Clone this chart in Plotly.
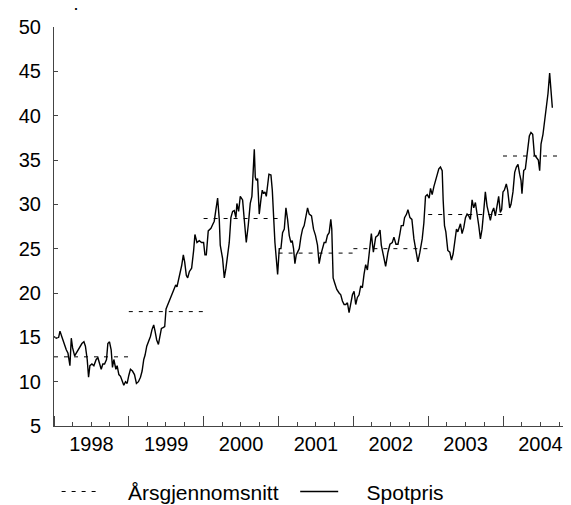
import plotly.graph_objects as go
import pandas as pd

# Weekly-ish spot price readings (fractional year, USD per barrel)
spot_t = [
    1998.0, 1998.03, 1998.062, 1998.08, 1998.107, 1998.133, 1998.164, 1998.187, 1998.213, 1998.231,
    1998.249, 1998.276, 1998.311, 1998.342, 1998.373, 1998.4, 1998.42, 1998.444, 1998.462, 1998.48,
    1998.507, 1998.533, 1998.564, 1998.587, 1998.609, 1998.631, 1998.653, 1998.676, 1998.702, 1998.72,
    1998.742, 1998.764, 1998.782, 1998.8, 1998.827, 1998.844, 1998.867, 1998.889, 1998.911, 1998.933,
    1998.956, 1998.978, 1999.0, 1999.022, 1999.049, 1999.076, 1999.102, 1999.129, 1999.156, 1999.178,
    1999.2, 1999.218, 1999.24, 1999.262, 1999.289, 1999.311, 1999.333, 1999.351, 1999.373, 1999.396,
    1999.413, 1999.436, 1999.458, 1999.48, 1999.498, 1999.52, 1999.547, 1999.573, 1999.6, 1999.627,
    1999.644, 1999.667, 1999.689, 1999.707, 1999.729, 1999.747, 1999.769,
    1999.787, 1999.809, 1999.84, 1999.867, 1999.884, 1999.911, 1999.942, 1999.973, 2000.0, 2000.018,
    2000.036, 2000.062, 2000.098, 2000.12, 2000.142, 2000.164, 2000.187, 2000.209, 2000.222, 2000.253,
    2000.276, 2000.298, 2000.32, 2000.342, 2000.364, 2000.387, 2000.409, 2000.431, 2000.444, 2000.467,
    2000.489, 2000.52, 2000.542, 2000.569, 2000.596, 2000.622, 2000.644, 2000.676, 2000.689, 2000.702,
    2000.72, 2000.733, 2000.742, 2000.764, 2000.782, 2000.8, 2000.818, 2000.836, 2000.853, 2000.871,
    2000.898, 2000.916, 2000.933, 2000.951, 2000.987, 2001.009, 2001.031, 2001.053, 2001.076, 2001.098,
    2001.12, 2001.142, 2001.164, 2001.182, 2001.2, 2001.218, 2001.236, 2001.253, 2001.276, 2001.298,
    2001.32, 2001.342, 2001.364, 2001.387, 2001.409, 2001.44, 2001.467, 2001.493, 2001.52, 2001.542,
    2001.564, 2001.587, 2001.609, 2001.631, 2001.653, 2001.676, 2001.698, 2001.711, 2001.729, 2001.751,
    2001.778, 2001.809, 2001.831, 2001.853, 2001.876, 2001.898, 2001.92, 2001.942, 2001.964, 2001.987,
    2002.009, 2002.031, 2002.053, 2002.076, 2002.098, 2002.12, 2002.142, 2002.164,
    2002.187, 2002.209, 2002.24, 2002.267, 2002.298, 2002.329, 2002.356, 2002.373, 2002.4, 2002.431,
    2002.462, 2002.489, 2002.52, 2002.542, 2002.569, 2002.596, 2002.622, 2002.64, 2002.667, 2002.684,
    2002.711, 2002.729, 2002.756, 2002.782, 2002.809, 2002.836, 2002.862, 2002.889, 2002.92, 2002.942,
    2002.964, 2002.987, 2003.013, 2003.031, 2003.053, 2003.076, 2003.098, 2003.12, 2003.142, 2003.164,
    2003.187, 2003.2, 2003.218, 2003.236, 2003.262, 2003.289, 2003.311, 2003.333, 2003.356, 2003.378,
    2003.396, 2003.413, 2003.431, 2003.453, 2003.476, 2003.498, 2003.52, 2003.542, 2003.564, 2003.587,
    2003.609, 2003.631, 2003.653, 2003.676, 2003.698, 2003.72, 2003.742, 2003.764, 2003.787, 2003.809,
    2003.831, 2003.853, 2003.876, 2003.898, 2003.92, 2003.942, 2003.964, 2003.982, 2004.0, 2004.018,
    2004.044, 2004.062, 2004.089, 2004.107, 2004.133, 2004.156, 2004.178, 2004.2, 2004.222, 2004.24,
    2004.253, 2004.276, 2004.298, 2004.311, 2004.329, 2004.351, 2004.373, 2004.396, 2004.418, 2004.436,
    2004.453, 2004.471, 2004.489, 2004.507, 2004.533, 2004.556, 2004.578, 2004.6, 2004.622, 2004.64,
    2004.658,
]
spot_v = [
    15.1, 14.9, 15.0, 15.7, 15.0, 14.3, 13.6, 13.2, 11.8, 14.9,
    13.8, 12.9, 13.4, 13.8, 14.3, 14.5, 14.0, 12.5, 10.5, 11.8,
    12.0, 11.8, 12.5, 12.7, 12.1, 11.4, 12.0, 12.0, 12.5, 14.3,
    14.5, 13.6, 11.6, 12.5, 11.4, 11.8, 10.8, 10.6, 10.1, 9.6,
    10.0, 9.8, 10.7, 11.4, 11.2, 10.8, 9.8, 10.0, 10.5, 11.2,
    12.5, 13.0, 14.0, 14.5, 15.1, 15.9, 16.4, 15.7, 14.7, 14.2,
    15.1, 16.0, 16.1, 16.2, 18.2, 18.7, 19.2, 19.7, 20.4, 20.9,
    20.7, 21.5, 22.2, 23.1, 24.3, 23.5, 22.0,
    21.7, 22.4, 22.8, 24.8, 26.6, 25.7, 25.9, 25.7, 25.7, 24.3,
    24.3, 27.0, 27.3, 27.7, 28.1, 29.4, 30.7, 28.3, 25.4, 23.9,
    21.7, 22.8, 24.3, 25.7, 28.5, 29.2, 29.3, 28.5, 30.1, 29.2,
    30.9, 30.5, 28.3, 25.7, 27.7, 30.1, 30.9, 36.2, 33.1, 32.7,
    32.9, 30.9, 28.9, 30.5, 31.6, 31.2, 31.4, 30.9, 32.0, 33.4,
    33.3, 31.6, 28.7, 25.7, 22.1, 25.0, 25.0, 26.8, 27.2, 29.6,
    28.3, 26.5, 25.7, 25.9, 25.0, 23.3, 24.3, 24.6, 25.0, 26.3,
    27.2, 27.6, 28.5, 29.6, 28.9, 28.7, 27.2, 26.5, 25.4, 23.3,
    24.3, 25.0, 25.7, 25.7, 26.5, 26.8, 28.3, 27.2, 21.7, 21.1,
    20.4, 20.0, 19.8, 19.1, 18.7, 18.7, 18.9, 17.8, 18.7, 19.8,
    20.2, 18.7, 19.5, 19.8, 20.8, 20.6, 22.1, 23.2,
    22.6, 24.3, 26.7, 24.6, 26.3, 26.5, 27.1, 25.4, 24.3, 23.0,
    24.6, 25.5, 25.7, 26.3, 25.5, 25.5, 26.7, 27.6, 27.6, 28.5,
    28.9, 29.4, 28.5, 28.3, 26.1, 24.6, 23.5, 24.6, 26.1, 27.9,
    30.9, 31.1, 30.7, 31.8, 31.1, 32.0, 32.7, 33.3, 34.0, 34.2,
    33.8, 30.5, 27.6, 26.9, 24.8, 24.6, 23.7, 24.4, 26.1, 27.2,
    26.9, 27.4, 27.8, 26.7, 27.4, 28.5, 28.9, 28.7, 28.3, 30.5,
    29.6, 30.2, 29.1, 27.6, 26.1, 27.2, 29.2, 31.4, 29.8, 28.9,
    28.2, 29.1, 29.6, 28.7, 29.6, 30.9, 29.1, 29.4, 31.4, 31.6,
    32.3, 31.6, 29.6, 30.0, 31.4, 33.6, 34.2, 34.5, 33.4, 32.7,
    31.2, 33.8, 34.0, 34.9, 36.8, 37.7, 38.1, 37.9, 35.6, 35.4,
    35.3, 35.0, 33.8, 36.8, 37.9, 39.5, 41.6, 42.5, 44.8, 43.0,
    40.9,
]

# Annual averages
avg_years = [1998, 1999, 2000, 2001, 2002, 2003, 2004]
avg_values = [12.8, 17.9, 28.4, 24.5, 25.0, 28.85, 35.45]

legend_names = ["Årsgjennomsnitt", "Spotpris"]
title_text = "USD per fat"


def frac_to_date(t):
    y = int(t)
    start = pd.Timestamp(year=y, month=1, day=1)
    end = pd.Timestamp(year=y + 1, month=1, day=1)
    return start + (end - start) * (t - y)


spot_x = [frac_to_date(t) for t in spot_t]

avg_x, avg_y = [], []
for yr, val in zip(avg_years, avg_values):
    avg_x += [pd.Timestamp(year=yr, month=1, day=1), pd.Timestamp(year=yr + 1, month=1, day=1), None]
    avg_y += [val, val, None]

FONT = "Liberation Sans, Arial, sans-serif"
NB = "\u00a0"

fig = go.Figure()
fig.add_trace(go.Scatter(
    x=avg_x, y=avg_y, mode="lines", name=NB * 4 + legend_names[0] + NB * 2,
    line=dict(color="black", width=1, dash="4px,6px"),
))
fig.add_trace(go.Scatter(
    x=spot_x, y=spot_v, mode="lines", name=NB * 4 + legend_names[1],
    line=dict(color="black", width=1.4),
))

fig.add_annotation(
    text=title_text, xref="paper", yref="paper", x=0, y=1,
    xanchor="left", yanchor="bottom", xshift=-30, yshift=15,
    showarrow=False, font=dict(family=FONT, size=20, color="black"),
)

fig.update_layout(
    width=571, height=505,
    margin=dict(l=46, r=1, t=19, b=77),
    paper_bgcolor="white", plot_bgcolor="white",
    font=dict(family=FONT, size=20, color="black"),
    showlegend=True,
    legend=dict(
        orientation="h", x=0.005, y=-0.165, xanchor="left", yanchor="middle",
        font=dict(family=FONT, size=21, color="black"),
        itemwidth=38, bgcolor="rgba(0,0,0,0)",
    ),
    xaxis=dict(
        type="date",
        range=[pd.Timestamp("1998-01-01"), pd.Timestamp("2005-01-01")],
        dtick="M12", tick0="1998-01-01", tickformat="%Y", ticklabelmode="period",
        ticks="inside", ticklen=10, tickcolor="#444", tickwidth=1,
        showline=True, linecolor="#444", linewidth=1,
        showgrid=False, zeroline=False,
        minor=dict(dtick="M3", ticks="inside", ticklen=4, tickcolor="#444", showgrid=False),
        tickfont=dict(family=FONT, size=20, color="black"),
    ),
    yaxis=dict(
        range=[5, 50], dtick=5, tick0=5,
        ticks="inside", ticklen=4, tickcolor="#444", tickwidth=1,
        showline=True, linecolor="#444", linewidth=1,
        showgrid=False, zeroline=False,
        tickfont=dict(family=FONT, size=20, color="black"),
        ticklabelstandoff=8,
    ),
)

fig.write_html("out.html")
